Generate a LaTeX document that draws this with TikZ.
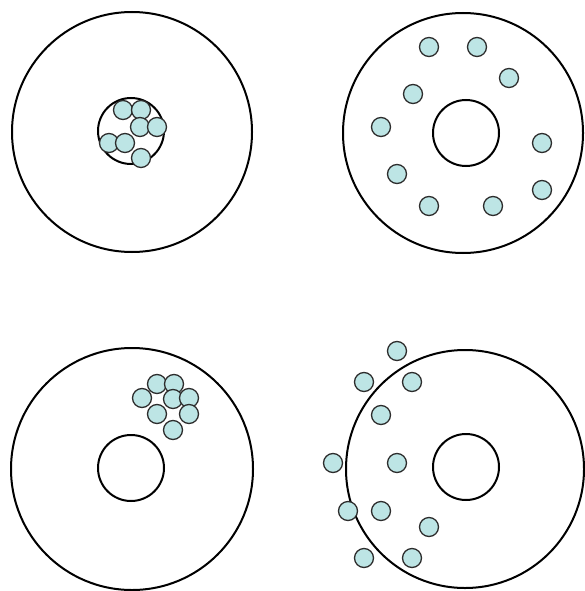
\documentclass[tikz,border=0pt]{standalone}
\definecolor{dotfill}{RGB}{189,229,229}
\definecolor{dotline}{RGB}{45,45,45}
\tikzset{
  disc/.style={circle,draw=black,line width=2pt,inner sep=0pt,fill=none},
  dot/.style={circle,draw=dotline,line width=1.3pt,fill=dotfill,inner sep=0pt,minimum size=19pt},
}
\begin{document}
\begin{tikzpicture}[x=1pt,y=-1pt]
\useasboundingbox (0,0) rectangle (585,591);
% big circles
\node[disc,minimum size=240pt] (tl) at (132,132) {};
\node[disc,minimum size=240pt] (tr) at (463,133) {};
\node[disc,minimum size=242pt] (bl) at (132,469) {};
\node[disc,minimum size=238pt] (br) at (465,469) {};
% inner circles
\node[disc,minimum size=66pt] (tli) at (131,131) {};
\node[disc,minimum size=66pt] (tri) at (466,133) {};
\node[disc,minimum size=66pt] (bli) at (131,468) {};
\node[disc,minimum size=66pt] (bri) at (466,467) {};
% top-left cluster
\foreach \n/\x/\y in {1/123/110,2/141/110,3/140/127,4/157/127,5/109/143,6/125/143,7/141/158}
  \node[dot] (a\n) at (\x,\y) {};
% top-right spread
\foreach \n/\x/\y in {1/429/47,2/477/47,3/509/78,4/413/94,5/381/127,6/542/143,7/397/174,8/542/190,9/429/206,10/493/206}
  \node[dot] (b\n) at (\x,\y) {};
% bottom-left cluster
\foreach \n/\x/\y in {1/157/384,2/174/384,3/142/398,4/173/399,5/189/398,6/157/414,7/189/414,8/173/430}
  \node[dot] (c\n) at (\x,\y) {};
% bottom-right
\foreach \n/\x/\y in {1/397/351,2/364/382,3/412/382,4/381/415,5/333/463,6/397/463,7/348/511,8/381/511,9/429/527,10/364/558,11/412/558}
  \node[dot] (d\n) at (\x,\y) {};
\end{tikzpicture}
\end{document}
